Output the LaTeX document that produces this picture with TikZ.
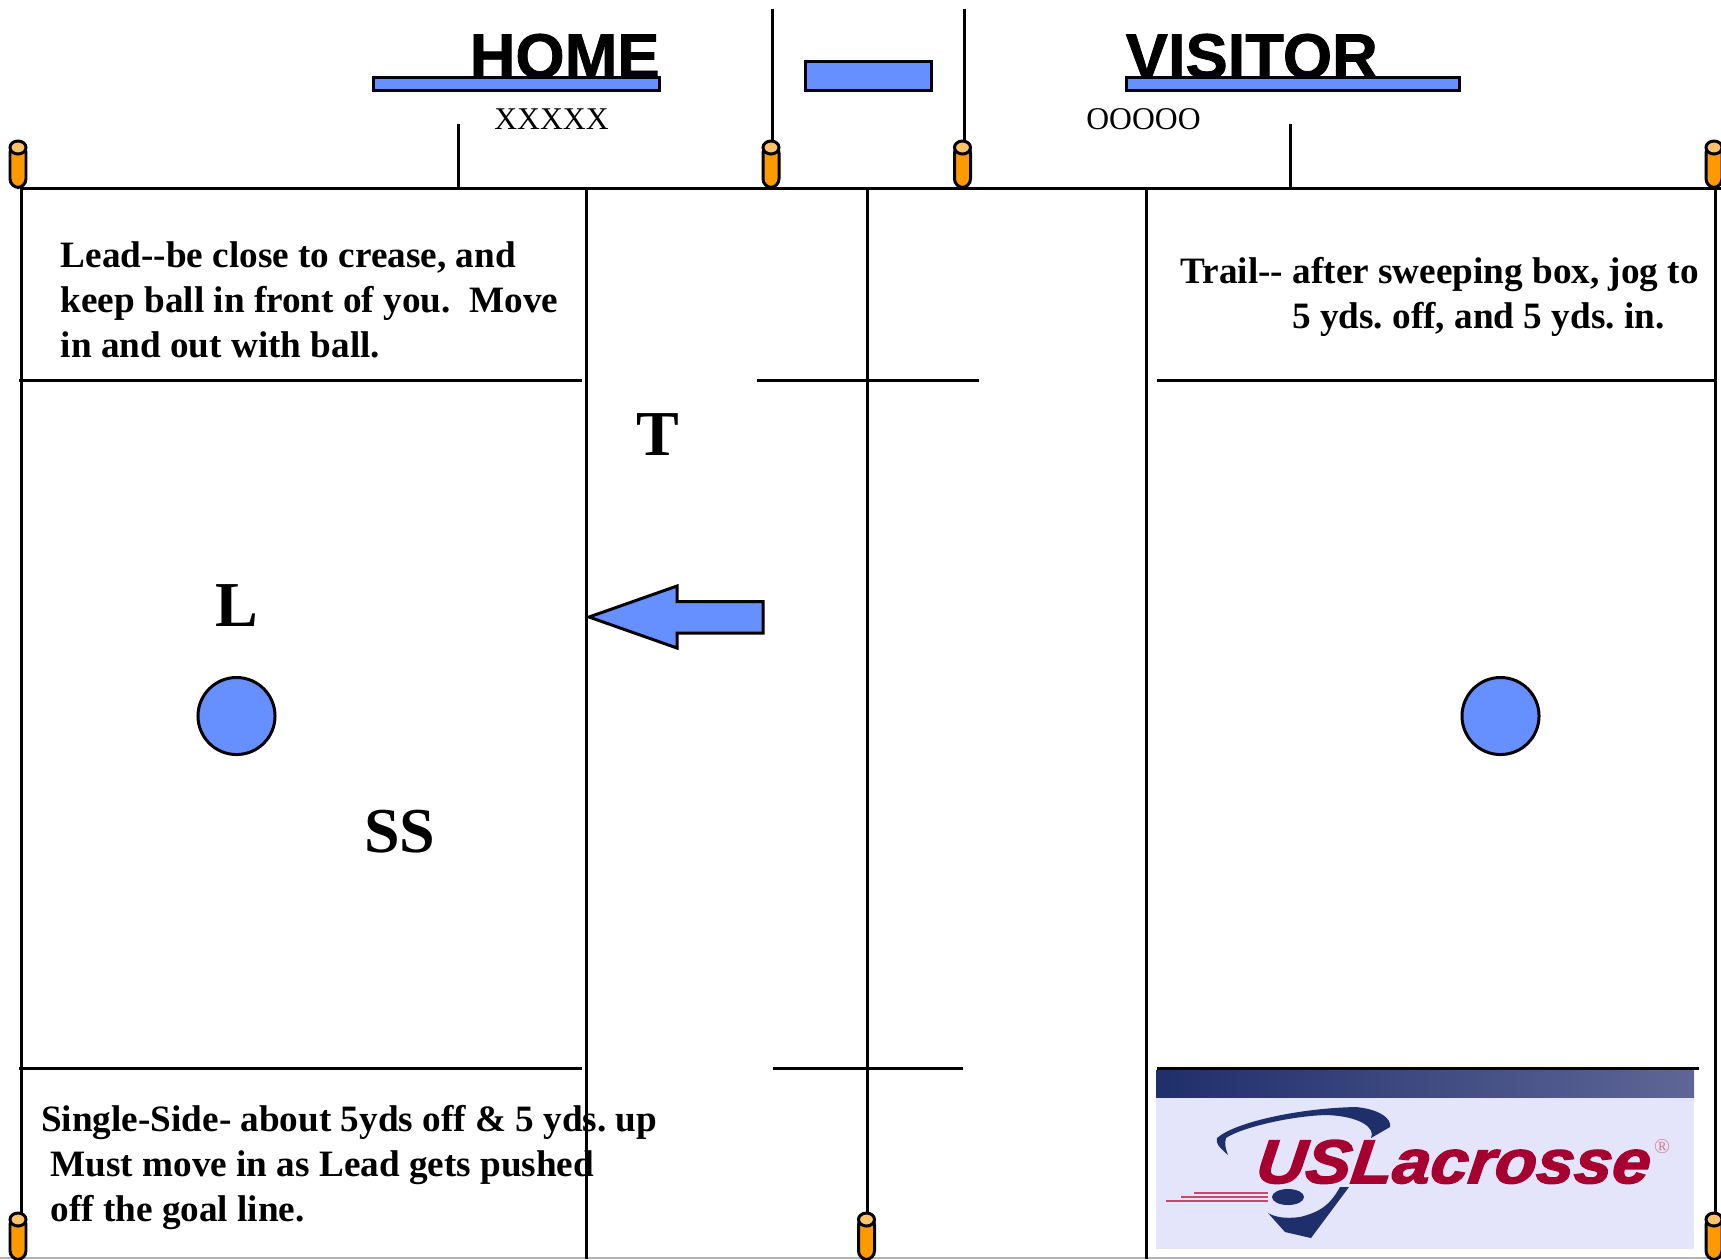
\documentclass[tikz,border=0pt]{standalone}
\usepackage{fontspec}
\setmainfont{Liberation Serif}
\newfontfamily\headfont[FakeBold=1.2]{Liberation Sans Bold}
\newfontfamily\logofont[FakeBold=2.5, FakeStretch=1.107, FakeSlant=0.12]{Liberation Sans Bold Italic}
\usetikzlibrary{calc}

\definecolor{boxblue}{HTML}{6690FF}
\definecolor{postorange}{HTML}{FF9900}
\definecolor{capyellow}{HTML}{FFC266}
\definecolor{logonavy}{HTML}{1F2F6B}
\definecolor{logoband}{HTML}{5F6697}
\definecolor{logopale}{HTML}{E4E4FB}
\definecolor{logored}{HTML}{A5002F}

\tikzset{
    fieldline/.style={draw=black, line width=0.85pt},
    bluebox/.style={fill=boxblue, draw=black, line width=0.85pt},
    headtext/.style={inner sep=0pt, anchor=base west, font=\headfont\fontsize{18}{20}\selectfont},
    teamtext/.style={inner sep=0pt, font=\fontsize{9}{11}\selectfont},
    bigletter/.style={inner sep=0pt, font=\bfseries\fontsize{18.2}{20}\selectfont},
    notetext/.style={inner sep=0pt, anchor=north west, align=left, font=\bfseries\frenchspacing\fontsize{10.58}{12.8}\selectfont},
}

% one post of the field flag: x position, top of the post
\newcommand{\fieldpost}[2]{%
    \filldraw[fill=postorange, draw=black, line width=0.85pt, rounded corners=2.5pt]
        ($(#1,#2)+(-8,4)$) rectangle ($(#1,#2)+(8,47.5)$);
    \filldraw[fill=capyellow, draw=black, line width=0.85pt] ($(#1,#2)+(0,7.5)$) ellipse (0.08cm and 0.065cm);
}

\begin{document}
\begin{tikzpicture}[x=0.01cm, y=-0.01cm]
    \useasboundingbox (0,0) rectangle (1721,1259);
    \clip (0,0) rectangle (1721,1259);
    \fill[white] (0,0) rectangle (1721,1259);

    % Draw edge of the page
    \draw[gray!60, line width=0.5pt] (0,1258) -- (1721,1258);

    % Draw headings with their team boxes
    \node[headtext] (homehead) at (469,78) {HOME};
    \node[headtext] (visitorhead) at (1125,78) {VISITOR};
    \filldraw[bluebox] (373.5,77.5) rectangle (659,90.5);
    \filldraw[bluebox] (805.5,61.5) rectangle (931.5,90.5);
    \filldraw[bluebox] (1126,77.5) rectangle (1459,90.5);
    \node[teamtext] (homeside) at (551.5,119) {XXXXX};
    \node[teamtext] (visitorside) at (1143.5,119) {OOOOO};

    % Draw field lines
    \draw[fieldline] (20,188) -- (1721,188);
    \foreach \xpos in {21.5,586,867,1146.5,1715}
        \draw[fieldline] (\xpos,188) -- (\xpos,1259);
    \foreach \xpos in {458,1290.5}
        \draw[fieldline] (\xpos,124) -- (\xpos,188);
    \foreach \xpos in {772,964}
        \draw[fieldline] (\xpos,9) -- (\xpos,145);
    \foreach \xfrom/\xto in {19/582,757/979,1157/1715}
        \draw[fieldline] (\xfrom,380) -- (\xto,380);
    \foreach \xfrom/\xto in {19/582,773/963,1157/1699}
        \draw[fieldline] (\xfrom,1068) -- (\xto,1068);

    % Draw flag posts
    \foreach \xpos in {18,771,962.5,1714} {
        \fieldpost{\xpos}{140}
    }
    \foreach \xpos in {18,866.5,1714} {
        \fieldpost{\xpos}{1212}
    }

    % Draw referees and the direction of play
    \filldraw[bluebox] (236.5,716) circle (0.385cm);
    \filldraw[bluebox] (1500.5,716) circle (0.385cm);
    \filldraw[bluebox] (589,617) -- (677,586) -- (677,601.5) -- (763,601.5)
        -- (763,633) -- (677,633) -- (677,648) -- cycle;
    \node[bigletter] (trailmark) at (657.5,435) {T};
    \node[bigletter] (leadmark) at (237,606) {L};
    \node[bigletter] (sidemark) at (400,832) {SS};

    % Draw notes for each position
    \node[notetext] (leadnote) at (60,241)
        {Lead-{}-be close to crease, and\\keep ball in front of you.\ \ Move\\in and out with ball.};
    \node[notetext] (trailnote) at (1180,257)
        {Trail-{}- after sweeping box, jog to\\\hspace*{1.115cm}5 yds. off, and 5 yds. in.};
    \node[notetext] (sidenote) at (40.5,1105)
        {Single-Side- about 5yds off \& 5 yds. up\\\ Must move in as Lead gets pushed\\\ off the goal line.};

    % Draw logo
    \fill[logopale] (1156,1070) rectangle (1694,1249);
    \shade[left color=logonavy, right color=logoband] (1156,1070) rectangle (1694,1097);
    \fill[logonavy] (1228,1155) .. controls (1220,1148) and (1215,1143) .. (1217,1138)
        .. controls (1235,1122) and (1300,1108) .. (1356,1107)
        .. controls (1378,1109) and (1392,1118) .. (1390,1127) -- (1371,1138)
        .. controls (1376,1128) and (1360,1116) .. (1326,1115)
        .. controls (1290,1116) and (1240,1128) .. (1226,1138)
        .. controls (1224,1143) and (1226,1150) .. (1228,1155) -- cycle;
    \fill[logonavy] (1268,1213) -- (1285,1232) -- (1311,1238) -- (1349,1187) -- (1340,1187)
        .. controls (1330,1205) and (1320,1212) .. (1300,1217)
        .. controls (1285,1219) and (1275,1217) .. (1268,1213) -- cycle;
    \fill[logonavy] (1288,1197) ellipse (0.16cm and 0.08cm);
    \draw[logored!70, line width=0.5pt] (1194,1193) -- (1268,1193);
    \draw[logored!70, line width=0.5pt] (1181,1197) -- (1268,1197);
    \draw[logored!70, line width=0.7pt] (1166,1201) -- (1268,1201);
    \node[inner sep=0pt, anchor=base west, text=logored, font=\logofont\fontsize{17.5}{20}\selectfont] (logoname) at (1254,1183) {USLacrosse};
    \node[inner sep=0pt, text=logored!50, font=\fontsize{6}{7}\selectfont] (logomark) at (1662,1147) {®};
\end{tikzpicture}
\end{document}
